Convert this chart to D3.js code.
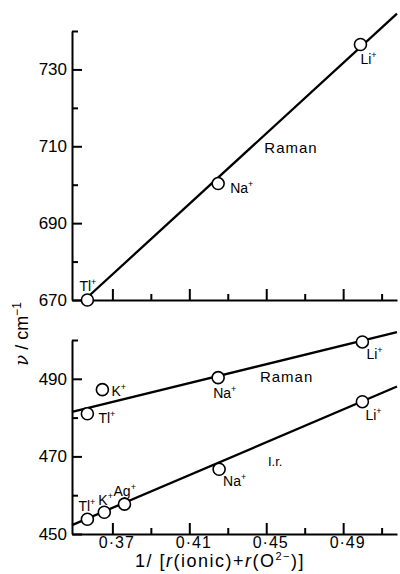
<!DOCTYPE html>
<html>
<head>
<meta charset="utf-8">
<script src="https://cdn.jsdelivr.net/npm/d3@7"></script>
<style>
  body { margin: 0; background: #fff; }
  svg text { font-family: "Liberation Sans", Arial, sans-serif; fill: #000; }
  .axis path, .axis line { stroke: #000; }
</style>
</head>
<body>
<svg width="400" height="574"></svg>
<script>
// upper panel (Raman, 670-740)
var topIons = ["Tl", "Na", "Li"];
var topX = [0.357, 0.425, 0.499];
var topV = [670, 700.3, 736.5];
var topFit = [[0.3555, 670], [0.518, 744.5]];

// lower panel, Raman
var ramanIons = ["Tl", "Na", "Li"];
var ramanX = [0.357, 0.425, 0.500];
var ramanV = [481, 490.3, 499.5];
var ramanFit = [[0.349, 481.5], [0.518, 502]];
var kRamanX = 0.3648, kRamanV = 487.2;

// lower panel, i.r.
var irIons = ["Tl", "K", "Ag", "Na", "Li"];
var irX = [0.357, 0.3658, 0.3763, 0.4255, 0.500];
var irV = [453.8, 455.6, 457.7, 466.7, 484.1];
var irFit = [[0.349, 452.3], [0.518, 488]];

var xMajor = [0.37, 0.41, 0.45, 0.49];
var xMinor = [0.39, 0.43, 0.47, 0.51];
var topMajor = [670, 690, 710, 730];
var topMinor = [680, 700, 720, 740];
var botMajor = [450, 470, 490];
var botMinor = [460, 480, 500];

// label offsets in px from the point centre (layout only)
var topOff = [[-8, -9], [12, 9], [0, 20]];
var ramanOff = [[11, 9], [-5, 20], [4, 17]];
var irOff = [[-9, -8], [-6, -7], [-11, -8], [4, 17], [3, 18]];

var svg = d3.select("svg");

var x = d3.scaleLinear().domain([0.349, 0.518]).range([72, 397]);
var yTop = d3.scaleLinear().domain([670, 740]).range([300, 31]);
var yBot = d3.scaleLinear().domain([450, 500]).range([534, 340]);

var fmt = function(d) { return d3.format(".2f")(d).replace(".", "·"); };

function drawAxes(y, major, minor, baseY, xLabels) {
    var gy = svg.append("g").attr("class", "axis")
        .attr("transform", "translate(" + x.range()[0] + ",0)");
    gy.call(d3.axisLeft(y).tickValues(major).tickSizeInner(-10).tickSizeOuter(0).tickPadding(5));
    gy.append("g").call(d3.axisLeft(y).tickValues(minor).tickSizeInner(-6).tickSizeOuter(0).tickFormat(""))
        .select(".domain").remove();
    gy.selectAll("path, line").attr("stroke-width", 2);
    gy.selectAll("text").attr("font-size", 17).attr("font-family", "Liberation Sans, Arial, sans-serif");

    var gx = svg.append("g").attr("class", "axis")
        .attr("transform", "translate(0," + baseY + ")");
    gx.call(d3.axisBottom(x).tickValues(xMajor).tickSizeInner(-11).tickSizeOuter(0)
        .tickPadding(2).tickFormat(xLabels ? fmt : ""));
    gx.append("g").call(d3.axisBottom(x).tickValues(xMinor).tickSizeInner(-6).tickSizeOuter(0).tickFormat(""))
        .select(".domain").remove();
    gx.selectAll("path, line").attr("stroke-width", 2);
    gx.selectAll("text").attr("font-size", 16).attr("font-family", "Liberation Sans, Arial, sans-serif")
        .attr("letter-spacing", 1).attr("dx", 4).attr("dy", "0.75em");
}

drawAxes(yTop, topMajor, topMinor, yTop(670), false);
drawAxes(yBot, botMajor, botMinor, yBot(450), true);

var line = d3.line();

function fitLine(fit, y) {
    svg.append("path")
        .attr("d", line(fit.map(function(p) { return [x(p[0]), y(p[1])]; })))
        .attr("fill", "none").attr("stroke", "#000").attr("stroke-width", 2.3);
}

function ionLabel(px, py, ion) {
    var t = svg.append("text").attr("x", px).attr("y", py).attr("font-size", 14);
    t.append("tspan").text(ion);
    t.append("tspan").attr("dy", -6).attr("font-size", 9).text("+");
}

function points(xs, vs, ions, offs, y) {
    xs.forEach(function(d, i) {
        svg.append("circle")
            .attr("cx", x(d)).attr("cy", y(vs[i])).attr("r", 6)
            .attr("fill", "#fff").attr("stroke", "#000").attr("stroke-width", 1.6);
        ionLabel(x(d) + offs[i][0], y(vs[i]) + offs[i][1], ions[i]);
    });
}

fitLine(topFit, yTop);
fitLine(ramanFit, yBot);
fitLine(irFit, yBot);

points(topX, topV, topIons, topOff, yTop);
points(ramanX, ramanV, ramanIons, ramanOff, yBot);
points(irX, irV, irIons, irOff, yBot);
points([kRamanX], [kRamanV], ["K"], [[9, 6]], yBot);

svg.append("text").attr("x", x(0.449)).attr("y", yTop(708.3)).attr("font-size", 15)
    .attr("letter-spacing", 1).text("Raman");
svg.append("text").attr("x", x(0.4467)).attr("y", yBot(489.2)).attr("font-size", 15)
    .attr("letter-spacing", 1).text("Raman");
svg.append("text").attr("x", x(0.4509)).attr("y", yBot(467.4)).attr("font-size", 13)
    .attr("font-family", "Liberation Serif, serif").text("I.r.");

// axis titles
var yt = svg.append("text")
    .attr("transform", "translate(28,334) rotate(-90)")
    .attr("text-anchor", "middle").attr("font-size", 18);
yt.append("tspan").attr("font-family", "DejaVu Serif, serif").attr("font-style", "italic").text("ν");
yt.append("tspan").text(" / cm");
yt.append("tspan").attr("dy", -7).attr("font-size", 12).text("−1");

var xt = svg.append("text").attr("x", 220).attr("y", 567)
    .attr("text-anchor", "middle").attr("font-size", 18).attr("letter-spacing", 1.5);
xt.append("tspan").text("1/ [");
xt.append("tspan").attr("font-style", "italic").text("r");
xt.append("tspan").text("(ionic)+");
xt.append("tspan").attr("font-style", "italic").text("r");
xt.append("tspan").text("(O");
xt.append("tspan").attr("dy", -7).attr("font-size", 11).text("2−");
xt.append("tspan").attr("dy", 7).text(")]");
</script>
</body>
</html>
